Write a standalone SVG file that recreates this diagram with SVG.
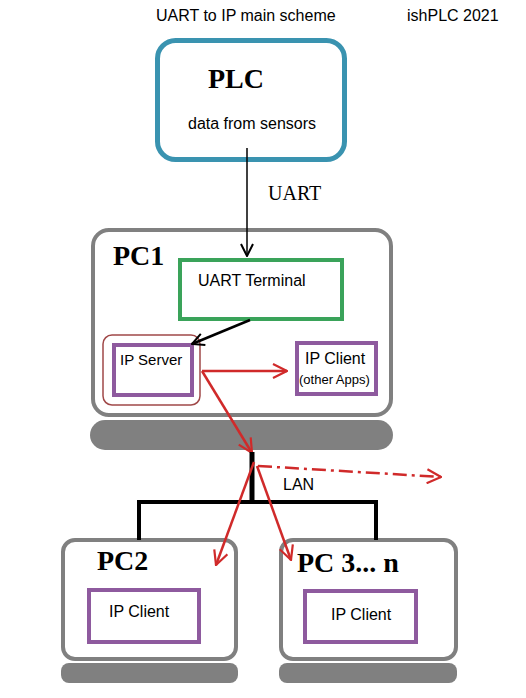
<svg xmlns="http://www.w3.org/2000/svg" width="526" height="698" viewBox="0 0 526 698">
<defs>
<marker id="ab" viewBox="0 0 14 14" refX="13" refY="7" markerWidth="14" markerHeight="14" markerUnits="userSpaceOnUse" orient="auto"><polyline points="1,1 13,7 1,13" fill="none" stroke="#000" stroke-width="2"/></marker>
<marker id="ar" viewBox="0 0 16 16" refX="15" refY="8" markerWidth="16" markerHeight="16" markerUnits="userSpaceOnUse" orient="auto"><polyline points="1,1 15,8 1,15" fill="none" stroke="#d02a2a" stroke-width="2.2"/></marker>
</defs>
<style>
.sans{font-family:"Liberation Sans",Arial,sans-serif;fill:#000;font-size:16px}
.serif{font-family:"Liberation Serif","Times New Roman",serif;fill:#000}
.big{font-weight:bold;font-size:28px}
.pc{fill:#fff;stroke:#808080;stroke-width:4}
.base{fill:#808080}
.ip{fill:#fff;stroke:#8e5a9e;stroke-width:4}
.red{stroke:#d02a2a;stroke-width:2.5;fill:none}
</style>
<rect width="526" height="698" fill="#fff"/>
<text class="sans" x="156" y="21">UART to IP main scheme</text>
<text class="sans" x="407" y="21">ishPLC 2021</text>

<g id="plc">
<rect x="157.5" y="40.5" width="187" height="119" rx="18" fill="#fff" stroke="#3a93b0" stroke-width="5"/>
<text class="serif big" x="208" y="88" font-size="31">PLC</text>
<text class="sans" x="188" y="129">data from sensors</text>
</g>

<g id="pc1">
<rect x="93" y="230" width="298" height="185" rx="16" class="pc"/>
<rect x="90" y="420" width="303" height="30" rx="15" class="base"/>
<text class="serif big" x="113" y="265">PC1</text>
</g>
<g id="uart-terminal">
<rect x="180" y="260" width="162" height="59" fill="#fff" stroke="#3aa35a" stroke-width="4"/>
<text class="sans" x="198" y="286">UART Terminal</text>
</g>
<g id="ip-server">
<rect x="103" y="335" width="97" height="70" rx="9" fill="#fff" stroke="#a04848" stroke-width="1.5"/>
<rect x="114" y="345" width="78" height="50" class="ip"/>
<text class="sans" x="120" y="365" font-size="15" style="font-size:15px">IP Server</text>
</g>
<g id="ip-client-apps">
<rect x="297" y="343" width="79" height="51" class="ip"/>
<text class="sans" x="305" y="364">IP Client</text>
<text class="sans" x="299" y="384" style="font-size:13px">(other Apps)</text>
</g>

<g id="pc2">
<rect x="63" y="540" width="173" height="119" rx="12" class="pc"/>
<rect x="61" y="663" width="177" height="20" rx="8" class="base"/>
<text class="serif big" x="97" y="570">PC2</text>
<rect x="89" y="590" width="110" height="52" class="ip"/>
<text class="sans" x="109" y="617">IP Client</text>
</g>
<g id="pc3">
<rect x="281" y="540" width="175" height="119" rx="12" class="pc"/>
<rect x="279" y="663" width="178" height="20" rx="8" class="base"/>
<text class="serif big" x="297" y="572">PC 3... n</text>
<rect x="305" y="591" width="111" height="51" class="ip"/>
<text class="sans" x="331" y="620">IP Client</text>
</g>

<g id="connectors">
<line x1="247" y1="148" x2="247" y2="256" stroke="#000" stroke-width="1.5" marker-end="url(#ab)"/>
<text class="serif" x="268" y="200" font-size="20">UART</text>
<line x1="250" y1="320" x2="192" y2="344" stroke="#000" stroke-width="2.5" marker-end="url(#ab)"/>
<line x1="202" y1="371" x2="287" y2="371" class="red" marker-end="url(#ar)"/>
<line x1="202" y1="371" x2="252" y2="453" class="red" marker-end="url(#ar)"/>
<line x1="252" y1="452" x2="252" y2="502" stroke="#000" stroke-width="5"/>
<polyline points="139,540 139,502 376,502 376,540" fill="none" stroke="#000" stroke-width="4"/>
<text class="sans" x="283" y="490">LAN</text>
<line x1="258" y1="466" x2="441" y2="477" class="red" stroke-dasharray="14,5,3,5" marker-end="url(#ar)"/>
<line x1="254" y1="462" x2="216" y2="565" class="red" marker-end="url(#ar)"/>
<line x1="257" y1="466" x2="291" y2="560" class="red" marker-end="url(#ar)"/>
</g>
</svg>
